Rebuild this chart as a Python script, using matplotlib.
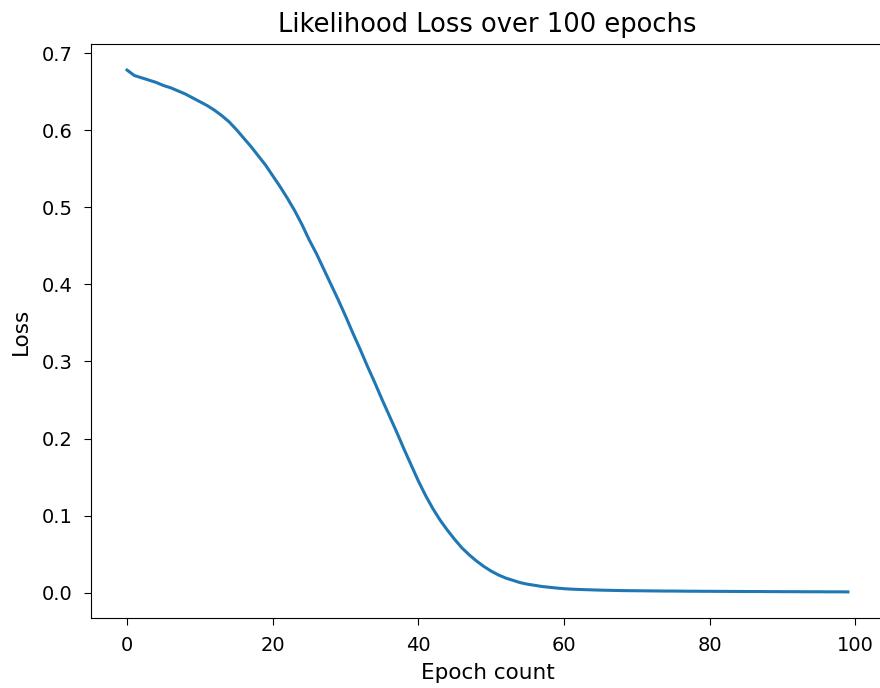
import matplotlib
matplotlib.use("Agg")
import matplotlib.pyplot as plt
import numpy as np

# loss values, one per epoch
epochs = list(range(100))
loss = [
    0.678, 0.671, 0.668, 0.665, 0.662, 0.658, 0.655, 0.651, 0.647, 0.642,
    0.637, 0.632, 0.626, 0.619, 0.611, 0.601, 0.590, 0.579, 0.567, 0.555,
    0.541, 0.527, 0.512, 0.496, 0.478, 0.458, 0.440, 0.420, 0.400, 0.380,
    0.359, 0.337, 0.316, 0.294, 0.273, 0.251, 0.230, 0.209, 0.187, 0.166,
    0.145, 0.126, 0.109, 0.094, 0.081, 0.069, 0.058, 0.049, 0.041, 0.034,
    0.028, 0.023, 0.019, 0.016, 0.013, 0.011, 0.0095, 0.008, 0.007, 0.006,
    0.0052, 0.0046, 0.0042, 0.0039, 0.0036, 0.0033, 0.0031, 0.0029, 0.0027, 0.0026,
    0.0025, 0.0024, 0.0023, 0.0022, 0.0021, 0.0021, 0.0020, 0.0019, 0.0019, 0.0018,
    0.0018, 0.0017, 0.0017, 0.0016, 0.0016, 0.0015, 0.0015, 0.0015, 0.0014, 0.0014,
    0.0013, 0.0013, 0.0013, 0.0012, 0.0012, 0.0012, 0.0011, 0.0011, 0.0011, 0.0010,
]

fig = plt.figure(figsize=(8.8, 6.88), dpi=100)
ax = fig.add_axes([91 / 880, 70 / 688, 793 / 880, 574 / 688])

ax.plot(epochs, loss, color="#1f77b4", linewidth=2.2)

ax.set_title("Likelihood Loss over 100 epochs", fontsize=18.5, pad=9)
ax.set_xlabel("Epoch count", fontsize=15.5, labelpad=6)
ax.set_ylabel("Loss", fontsize=15.5, labelpad=8)
ax.tick_params(labelsize=14, length=5, pad=8)

fig.savefig("out.png", dpi=100)
